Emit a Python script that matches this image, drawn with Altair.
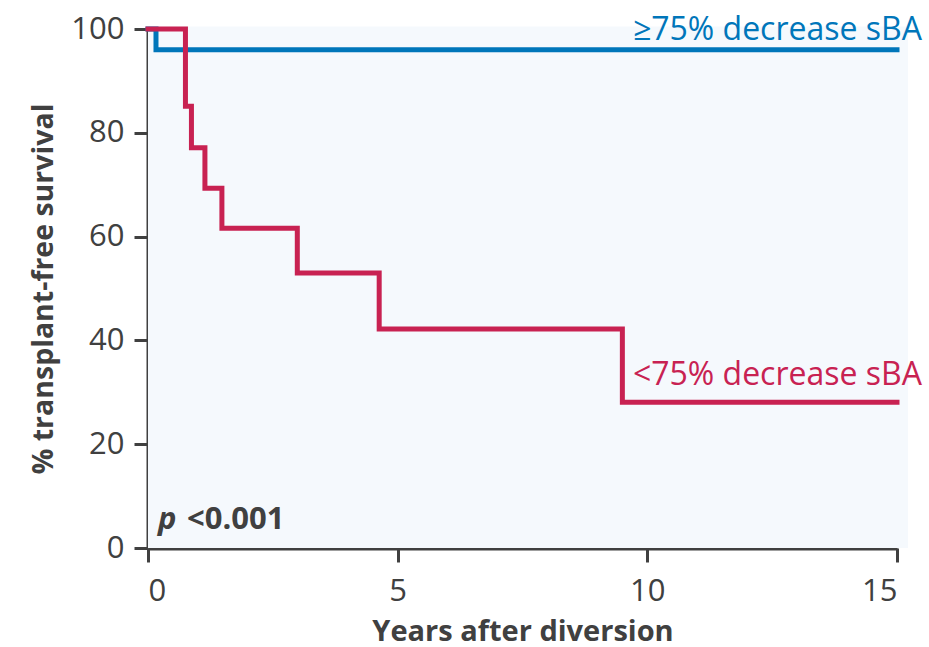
import altair as alt
import pandas as pd

# Kaplan-Meier step data
red_years = [0, 0.75, 0.87, 1.14, 1.48, 2.99, 4.63, 9.5, 15]
red_surv = [100, 85.1, 77.1, 69.3, 61.6, 53.0, 42.2, 28.1, 28.1]
blue_years = [0, 0.16, 15]
blue_surv = [100, 96.0, 96.0]

x_ticks = [0, 5, 10, 15]
y_ticks = [0, 20, 40, 60, 80, 100]

group_labels = ["≥75% decrease sBA", "<75% decrease sBA"]
label_x = [15.5, 15.5]
label_y = [97.9, 31.4]

# shaded panel extent (data units)
panel_x = [0, 15.22]
panel_y = [0, 100.5]

BLUE = "#0076BA"
RED = "#C82252"
AXIS = "#404040"
FONT = "Open Sans"

red_df = pd.DataFrame({"years": red_years, "surv": red_surv})
blue_df = pd.DataFrame({"years": blue_years, "surv": blue_surv})
panel_df = pd.DataFrame({"x": [panel_x[0]], "x2": [panel_x[1]], "y": [panel_y[0]], "y2": [panel_y[1]]})

xscale = alt.Scale(domain=[0, 15], nice=False, zero=False)
yscale = alt.Scale(domain=[0, 100], nice=False)

xaxis = alt.Axis(values=x_ticks, title="Years after diversion", grid=False,
                 domainColor=AXIS, domainWidth=4, tickColor=AXIS, tickWidth=3, tickSize=14,
                 labelFont=FONT, labelFontSize=31, labelColor=AXIS, labelPadding=14,
                 titleFont=FONT, titleFontSize=29, titleFontWeight="bold", titleColor=AXIS,
                 titlePadding=11)
yaxis = alt.Axis(values=y_ticks, title="% transplant-free survival", grid=False,
                 domainColor=AXIS, domainWidth=4, tickColor=AXIS, tickWidth=3, tickSize=14,
                 labelFont=FONT, labelFontSize=31, labelColor=AXIS, labelPadding=10,
                 titleFont=FONT, titleFontSize=28.5, titleFontWeight="bold", titleColor=AXIS,
                 titlePadding=12)

panel = alt.Chart(panel_df).mark_rect(color="#F5F9FD").encode(
    x=alt.X("x:Q", scale=xscale, axis=xaxis),
    x2="x2:Q",
    y=alt.Y("y:Q", scale=yscale, axis=yaxis),
    y2="y2:Q",
)

blue_line = alt.Chart(blue_df).mark_line(interpolate="step-after", color=BLUE, strokeWidth=5,
                                         strokeCap="square").encode(
    x=alt.X("years:Q", scale=xscale),
    y=alt.Y("surv:Q", scale=yscale),
)
red_line = alt.Chart(red_df).mark_line(interpolate="step-after", color=RED, strokeWidth=5,
                                       strokeCap="square").encode(
    x=alt.X("years:Q", scale=xscale),
    y=alt.Y("surv:Q", scale=yscale),
)

labels_df = pd.DataFrame({
    "years": label_x,
    "surv": label_y,
    "text": group_labels,
    "color": [BLUE, RED],
})
labels = alt.Chart(labels_df).mark_text(align="right", baseline="alphabetic", font=FONT,
                                        fontSize=32).encode(
    x=alt.X("years:Q", scale=xscale),
    y=alt.Y("surv:Q", scale=yscale),
    text="text:N",
    color=alt.Color("color:N", scale=None),
)

p_df = pd.DataFrame({"years": [0.2], "surv": [3.6], "t": ["p"]})
p_df2 = pd.DataFrame({"years": [0.78], "surv": [3.6], "t": ["<0.001"]})
p_text = alt.Chart(p_df).mark_text(align="left", baseline="alphabetic", font=FONT, fontSize=31,
                                   fontWeight="bold", fontStyle="italic", color=AXIS).encode(
    x=alt.X("years:Q", scale=xscale), y=alt.Y("surv:Q", scale=yscale), text="t:N")
p_text2 = alt.Chart(p_df2).mark_text(align="left", baseline="alphabetic", font=FONT, fontSize=31,
                                     fontWeight="bold", color=AXIS).encode(
    x=alt.X("years:Q", scale=xscale), y=alt.Y("surv:Q", scale=yscale), text="t:N")

chart = alt.layer(panel, blue_line, red_line, labels, p_text, p_text2).properties(
    width=749, height=519,
    padding={"left": 148, "top": 29, "right": 32, "bottom": 99},
    autosize=alt.AutoSizeParams(type="none"),
).configure_view(stroke=None).configure(background="white")

chart.save("out.html", embed_options={"renderer": "svg", "actions": False})
